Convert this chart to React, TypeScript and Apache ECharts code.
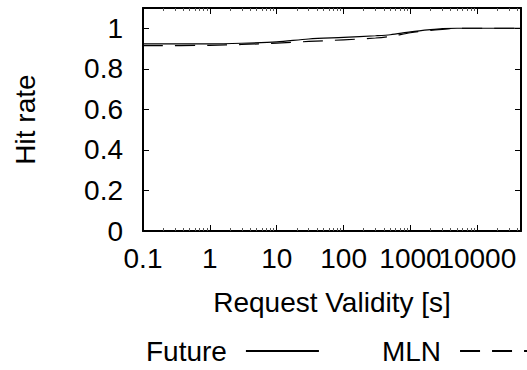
import React, { useEffect, useRef } from "react";
import * as echarts from "echarts";

const FONT = '"Liberation Sans", Helvetica, Arial, sans-serif';

const xMajorTicks = [0.1, 1, 10, 100, 1000, 10000];
const xLabelsA = [0.1, 1, 10, 100, 1000];
const xLabelsB = [10000];
const xMinorTicks = [
  0.2, 0.3, 0.4, 0.5, 0.6, 0.7, 0.8, 0.9,
  2, 3, 4, 5, 6, 7, 8, 9,
  20, 30, 40, 50, 60, 70, 80, 90,
  200, 300, 400, 500, 600, 700, 800, 900,
  2000, 3000, 4000, 5000, 6000, 7000, 8000, 9000,
  20000, 30000, 40000,
];
const yTicks = [0, 0.2, 0.4, 0.6, 0.8, 1];

const validity = [0.1, 1, 3, 10, 30, 100, 300, 500, 1000, 2000, 3000, 5000, 45000];
const futureHit = [0.923, 0.923, 0.926, 0.933, 0.947, 0.955, 0.963, 0.968, 0.982, 0.993, 0.998, 1.0, 1.0];
const mlnHit = [0.914, 0.916, 0.92, 0.927, 0.935, 0.943, 0.952, 0.96, 0.978, 0.99, 0.995, 1.0, 1.0];

const X_MIN = 0.1;
const X_MAX = 45000;
const Y_MIN = 0;
const Y_MAX = 1.1;

const FS = 28;

const fmt = (v: number) => String(Number(Number(v).toPrecision(6)));

export default function App() {
  const ref = useRef<HTMLDivElement>(null);
  useEffect(() => {
    if (!ref.current) return;
    const chart = echarts.init(ref.current, null, { renderer: "svg" });
    const black = "#000";
    const xAxisBase = (
      position: "top" | "bottom",
      major: boolean,
      labels: number[] | null
    ) => ({
      type: "log",
      logBase: 10,
      min: X_MIN,
      max: X_MAX,
      position,
      axisLine: { show: major, lineStyle: { color: black, width: 2 } },
      axisTick: {
        show: true,
        inside: true,
        length: major ? 6 : 3,
        customValues: major ? xMajorTicks : xMinorTicks,
        lineStyle: { color: major ? black : "#555", width: 1 },
      },
      axisLabel: {
        show: !!labels,
        customValues: labels || xMajorTicks,
        formatter: (v: number) => fmt(v),
        fontSize: FS,
        fontFamily: FONT,
        color: black,
        margin: 13,
        hideOverlap: false,
        showMinLabel: true,
        showMaxLabel: true,
      },
      splitLine: { show: false },
      minorTick: { show: false },
    });
    const yAxisBase = (position: "left" | "right", labels: boolean) => ({
      type: "value",
      min: Y_MIN,
      max: Y_MAX,
      position,
      axisLine: { show: true, lineStyle: { color: black, width: 2 } },
      axisTick: {
        show: true,
        inside: true,
        length: 6,
        customValues: yTicks,
        lineStyle: { color: black, width: 1 },
      },
      axisLabel: {
        show: labels,
        customValues: yTicks,
        formatter: (v: number) => fmt(v),
        fontSize: FS,
        fontFamily: FONT,
        color: black,
        margin: 20,
      },
      splitLine: { show: false },
    });

    const xMain: any = {
      ...xAxisBase("bottom", true, xLabelsA),
      name: "Request Validity [s]",
      nameLocation: "middle",
      nameGap: 57,
      nameTextStyle: { fontSize: FS, fontFamily: FONT, color: black },
    };
    const yMain: any = {
      ...yAxisBase("left", true),
      name: "Hit rate",
      nameLocation: "middle",
      nameGap: 104,
      nameTextStyle: { fontSize: FS, fontFamily: FONT, color: black },
    };

    chart.setOption({
      animation: false,
      backgroundColor: "#fff",
      grid: { left: 143, right: 6, top: 8, bottom: 139, containLabel: false },
      legend: {
        data: ["Future", "MLN"],
        left: 141,
        top: 332,
        align: "right",
        itemWidth: 73,
        itemHeight: 14,
        itemGap: 62,
        itemStyle: { opacity: 0, borderWidth: 0 },
        textStyle: {
          fontSize: FS,
          fontFamily: FONT,
          color: black,
          padding: [0, 14, 0, 0],
        },
      },
      xAxis: [
        xMain,
        xAxisBase("bottom", false, xLabelsB),
        xAxisBase("top", true, null),
        xAxisBase("top", false, null),
      ],
      yAxis: [yMain, yAxisBase("right", false)],
      series: [
        {
          name: "Future",
          type: "line",
          xAxisIndex: 0,
          yAxisIndex: 0,
          data: validity.map((v, i) => [v, futureHit[i]]),
          symbol: "none",
          smooth: 0.3,
          lineStyle: { color: black, width: 1.2, type: "solid" },
          itemStyle: { color: black },
        },
        {
          name: "MLN",
          type: "line",
          xAxisIndex: 0,
          yAxisIndex: 0,
          data: validity.map((v, i) => [v, mlnHit[i]]),
          symbol: "none",
          smooth: 0.3,
          lineStyle: { color: black, width: 1.2, type: [20, 12] },
          itemStyle: { color: black },
        },
      ],
    });
    return () => chart.dispose();
  }, []);
  return <div ref={ref} style={{ width: 527, height: 370, position: "absolute", left: 0, top: 0 }} />;
}
